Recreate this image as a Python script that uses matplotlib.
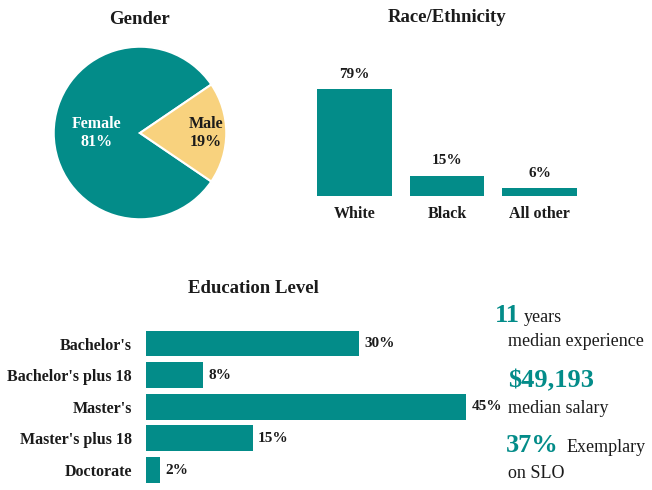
import matplotlib
matplotlib.use("Agg")
import matplotlib.pyplot as plt

plt.rcParams['font.family'] = ['Liberation Serif', 'DejaVu Serif']

TEAL = "#038C89"
GOLD = "#F8D27E"
DARK = "#1b1b1b"

# ---- data ----
gender_labels = ["Female", "Male"]
gender_values = [81, 19]

race_labels = ["White", "Black", "All other"]
race_values = [79, 15, 6]

edu_labels = ["Bachelor's", "Bachelor's plus 18", "Master's", "Master's plus 18", "Doctorate"]
edu_values = [30, 8, 45, 15, 2]

W, H = 652, 490
fig = plt.figure(figsize=(W / 100, H / 100), dpi=100)


def box(x0, y0, x1, y1):
    """pixel box (top-left origin) -> figure fraction rect"""
    return [x0 / W, 1 - y1 / H, (x1 - x0) / W, (y1 - y0) / H]


# ---- Gender pie ----
axp = fig.add_axes(box(52, 45, 228, 221))
male_share = gender_values[1] / sum(gender_values)
wedges, _ = axp.pie(gender_values, colors=[TEAL, GOLD], startangle=male_share * 180,
                    counterclock=True, radius=1,
                    wedgeprops=dict(edgecolor="white", linewidth=1.5))
axp.set_xlim(-1.02, 1.02)
axp.set_ylim(-1.02, 1.02)
axp.set_aspect("equal")
axp.axis("off")
axp.text(-0.5, 0.0, f"{gender_labels[0]}\n{gender_values[0]}%", ha="center", va="center",
         color="white", fontsize=11.5, fontweight="bold", linespacing=1.2)
axp.text(0.76, 0.0, f"{gender_labels[1]}\n{gender_values[1]}%", ha="center", va="center",
         color=DARK, fontsize=11.5, fontweight="bold", linespacing=1.2)
fig.text(140 / W, 1 - 20 / H, "Gender", ha="center", va="center",
         fontsize=13.5, fontweight="bold", color=DARK)

# ---- Race bars ----
xr = list(range(len(race_values)))
axr = fig.add_axes(box(308.25, 89, 585.75, 196))
axr.bar(xr, race_values, width=0.81, color=TEAL)
axr.set_xlim(-0.5, 2.5)
axr.set_ylim(0, max(race_values))
axr.axis("off")
for i, v in zip(xr, race_values):
    axr.annotate(f"{v}%", (i, v), xytext=(0, 6), textcoords="offset points",
                 ha="center", va="bottom", fontsize=11, fontweight="bold", color=DARK)
    axr.annotate(race_labels[i], (i, 0), xytext=(0, -7), textcoords="offset points",
                 ha="center", va="top", fontsize=11.5, fontweight="bold", color=DARK)
fig.text(447 / W, 1 - 18 / H, "Race/Ethnicity", ha="center", va="center",
         fontsize=13.5, fontweight="bold", color=DARK)

# ---- Education bars ----
ye = list(range(len(edu_values)))
axe = fig.add_axes(box(146, 327.7, 466, 485.9))
axe.barh(ye, edu_values, height=0.82, color=TEAL)
axe.set_xlim(0, 45)
axe.set_ylim(len(edu_values) - 0.5, -0.5)
for s in axe.spines.values():
    s.set_visible(False)
axe.set_xticks([])
axe.set_yticks(ye)
axe.set_yticklabels(edu_labels, fontsize=11.5, fontweight="bold", color=DARK)
axe.tick_params(axis="y", length=0, pad=10)
for i, v in zip(ye, edu_values):
    axe.annotate(f"{v}%", (v, i), xytext=(4, 0), textcoords="offset points",
                 ha="left", va="center", fontsize=11, fontweight="bold", color=DARK,
                 annotation_clip=False)
fig.text(253 / W, 1 - 288 / H, "Education Level", ha="center", va="center",
         fontsize=13.5, fontweight="bold", color=DARK)

# ---- Key stats ----
axt = fig.add_axes([0, 0, 1, 1])
axt.set_xlim(0, W)
axt.set_ylim(H, 0)
axt.axis("off")
axt.set_zorder(-1)

t1 = axt.text(495, 322, "11", fontsize=19, fontweight="bold", color=TEAL, va="baseline")
axt.text(508, 346, "median experience", fontsize=13, color=DARK, va="baseline")
axt.text(508, 387, "$49,193", fontsize=19, fontweight="bold", color=TEAL, va="baseline")
axt.text(508, 413, "median salary", fontsize=13, color=DARK, va="baseline")
t3 = axt.text(506, 452, "37%", fontsize=19, fontweight="bold", color=TEAL, va="baseline")
axt.text(508, 478, "on SLO", fontsize=13, color=DARK, va="baseline")

fig.canvas.draw()
r = fig.canvas.get_renderer()
inv = axt.transData.inverted()
x1 = inv.transform(t1.get_window_extent(r).p1)[0]
x3 = inv.transform(t3.get_window_extent(r).p1)[0]
axt.text(x1 + 4, 322, "years", fontsize=13, color=DARK, va="baseline")
axt.text(x3 + 8, 452, "Exemplary", fontsize=13, color=DARK, va="baseline")

fig.savefig("out.png", dpi=100, facecolor="white")
